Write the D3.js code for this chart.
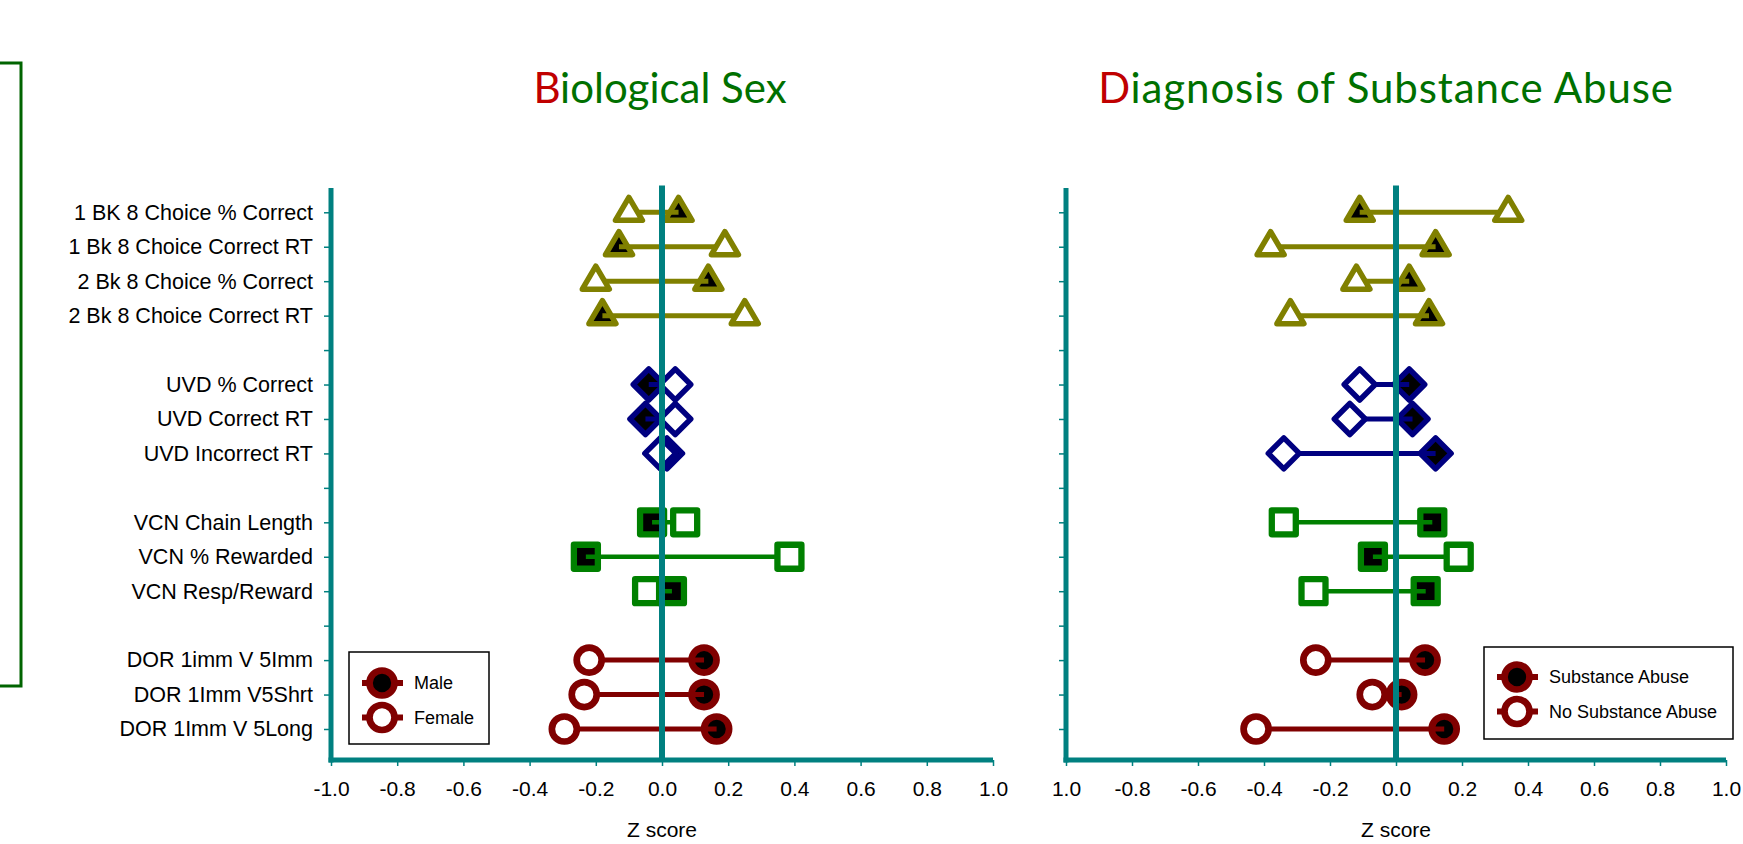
<!DOCTYPE html>
<html>
<head>
<meta charset="utf-8">
<script src="https://cdn.jsdelivr.net/npm/d3@7"></script>
<style>
  html, body { margin: 0; padding: 0; background: #fff; }
  svg { display: block; }
  text { font-family: "Liberation Sans", Arial, sans-serif; }
</style>
</head>
<body>
<div id="chart"></div>
<script>
// rows from top to bottom, "" = gap row
const rowLabels = [
  "1 BK 8 Choice % Correct", "1 Bk 8 Choice Correct RT", "2 Bk 8 Choice % Correct", "2 Bk 8 Choice Correct RT",
  "",
  "UVD % Correct", "UVD Correct RT", "UVD Incorrect RT",
  "",
  "VCN Chain Length", "VCN % Rewarded", "VCN Resp/Reward",
  "",
  "DOR 1imm V 5Imm", "DOR 1Imm V5Shrt", "DOR 1Imm V 5Long"
];
const rowGroup = ["tri","tri","tri","tri", null, "dia","dia","dia", null, "sq","sq","sq", null, "circ","circ","circ"];

const maleZ   = [0.05, -0.13, 0.14, -0.18, null, -0.04, -0.05, 0.015, null, -0.03, -0.23, 0.03, null, 0.127, 0.127, 0.165];
const femaleZ = [-0.10, 0.19, -0.20, 0.25, null, 0.04, 0.04, -0.005, null, 0.07, 0.385, -0.045, null, -0.22, -0.235, -0.295];

const abuseZ   = [-0.11, 0.12, 0.04, 0.10, null, 0.04, 0.05, 0.12, null, 0.11, -0.07, 0.09, null, 0.088, 0.017, 0.146];
const noAbuseZ = [0.34, -0.38, -0.12, -0.32, null, -0.11, -0.14, -0.34, null, -0.34, 0.19, -0.25, null, -0.243, -0.072, -0.424];

const xTicks = [-1, -0.8, -0.6, -0.4, -0.2, 0, 0.2, 0.4, 0.6, 0.8, 1];
const leftTickLabels  = ["-1.0","-0.8","-0.6","-0.4","-0.2","0.0","0.2","0.4","0.6","0.8","1.0"];
const rightTickLabels = ["1.0","-0.8","-0.6","-0.4","-0.2","0.0","0.2","0.4","0.6","0.8","1.0"];

const groupColor = { tri: "#808000", dia: "#000080", sq: "#008000", circ: "#800000" };
const teal = "#008080";

const W = 1743, H = 844;
const svg = d3.select("#chart").append("svg").attr("width", W).attr("height", H);

// y: row index -> pixel
const y = d3.scaleLinear().domain([-0.705, 15.9]).range([188, 760]);

// left green bracket
svg.append("path")
  .attr("d", "M0,63 H21 V686 H0")
  .attr("fill", "none").attr("stroke", "#006400").attr("stroke-width", 3);

function marker(g, shape, cx, cy, filled) {
  const fill = filled ? "#000" : "#fff";
  const col = groupColor[shape];
  if (shape === "circ") {
    g.append("circle").attr("cx", cx).attr("cy", cy).attr("r", 12.5)
      .attr("fill", fill).attr("stroke", col).attr("stroke-width", 6.7);
    return;
  }
  let d;
  if (shape === "tri") d = "M0,-15 L13.5,8 L-13.5,8 Z";
  else if (shape === "dia") d = "M0,-15.5 L15.5,0 L0,15.5 L-15.5,0 Z";
  else d = "M-12,-12 H12 V12 H-12 Z";
  g.append("path").attr("d", d)
    .attr("transform", `translate(${cx},${cy})`)
    .attr("fill", fill).attr("stroke", col)
    .attr("stroke-width", shape === "sq" ? 6.3 : 5.5)
    .attr("stroke-linejoin", "round");
}

function panel(opts) {
  const x = d3.scaleLinear().domain([-1, 1]).range(opts.range);
  const g = svg.append("g");

  // title
  const t = g.append("text")
    .attr("x", opts.titleX).attr("y", 103)
    .attr("text-anchor", "middle")
    .style("font-family", "Lato, 'Open Sans', sans-serif")
    .style("font-size", "42px")
    .style("letter-spacing", opts.titleSpacing);
  t.append("tspan").attr("fill", "#c00000").text(opts.title[0]);
  t.append("tspan").attr("fill", "#007000").text(opts.title.slice(1));

  // y axis ticks and labels
  const yAxis = d3.axisLeft(y)
    .tickValues(d3.range(rowLabels.length))
    .tickSize(7).tickPadding(11)
    .tickFormat(i => opts.showLabels ? rowLabels[i] : "");
  const ya = g.append("g").attr("transform", `translate(${x(-1)},0)`).call(yAxis);
  ya.select(".domain").remove();
  ya.selectAll(".tick line").attr("stroke", teal).attr("stroke-width", 1.5);
  ya.selectAll(".tick text").attr("fill", "#000")
    .style("font-size", "21.5px").style("font-family", "'Liberation Sans', Arial, sans-serif");

  // x axis
  const xAxis = d3.axisBottom(x)
    .tickValues(xTicks).tickSize(6).tickPadding(15)
    .tickFormat((d, i) => opts.tickLabels[i]);
  const xa = g.append("g").attr("transform", `translate(0,${y(15.9)})`).call(xAxis);
  xa.select(".domain").remove();
  xa.selectAll(".tick line").attr("stroke", teal).attr("stroke-width", 1.5);
  xa.selectAll(".tick text").attr("fill", "#000")
    .style("font-size", "21px").style("font-family", "'Liberation Sans', Arial, sans-serif");

  // axis lines
  g.append("line").attr("x1", x(-1)).attr("x2", x(-1)).attr("y1", y(-0.705)).attr("y2", y(15.9) + 2.5)
    .attr("stroke", teal).attr("stroke-width", 5);
  g.append("line").attr("x1", x(-1) - 2.5).attr("x2", x(1)).attr("y1", y(15.9)).attr("y2", y(15.9))
    .attr("stroke", teal).attr("stroke-width", 5);

  // x title
  g.append("text").attr("x", x(0)).attr("y", 837)
    .attr("text-anchor", "middle").attr("fill", "#000")
    .style("font-size", "21px").text("Z score");

  // marks
  const marks = g.append("g");
  rowLabels.forEach((lab, i) => {
    const shape = rowGroup[i];
    if (!shape) return;
    const a = opts.filled[i], b = opts.open[i];
    const cy = y(i);
    marker(marks, shape, x(a), cy, true);
    marks.append("line").attr("x1", x(a)).attr("x2", x(b)).attr("y1", cy).attr("y2", cy)
      .attr("stroke", groupColor[shape]).attr("stroke-width", shape === "sq" ? 4.5 : 5);
    marker(marks, shape, x(b), cy, false);
  });

  // zero line on top
  g.append("line").attr("x1", x(0)).attr("x2", x(0)).attr("y1", 185.5).attr("y2", y(15.9))
    .attr("stroke", teal).attr("stroke-width", 6);

  // legend
  const L = opts.legend;
  const lg = g.append("g");
  lg.append("rect").attr("x", L.x).attr("y", L.y).attr("width", L.w).attr("height", L.h)
    .attr("fill", "#fff").attr("stroke", "#000").attr("stroke-width", 1.5);
  L.items.forEach((name, k) => {
    const cy = L.y + L.first + k * 34.5;
    const mx = L.x + 33;
    lg.append("line").attr("x1", mx - 20).attr("x2", mx + 21).attr("y1", cy).attr("y2", cy)
      .attr("stroke", groupColor.circ).attr("stroke-width", 6);
    marker(lg, "circ", mx, cy, k === 0);
    lg.append("text").attr("x", L.x + 65).attr("y", cy).attr("dy", "0.35em")
      .attr("fill", "#000").style("font-size", "18px").text(name);
  });
}

panel({
  range: [331, 993], title: "Biological Sex", titleX: 660, titleSpacing: "0px", showLabels: true,
  tickLabels: leftTickLabels, filled: maleZ, open: femaleZ,
  legend: { x: 349, y: 652, w: 140, h: 92, first: 31, items: ["Male", "Female"] }
});
panel({
  range: [1066, 1726], title: "Diagnosis of Substance Abuse", titleX: 1386, titleSpacing: "0.9px", showLabels: false,
  tickLabels: rightTickLabels, filled: abuseZ, open: noAbuseZ,
  legend: { x: 1484, y: 647, w: 249, h: 92, first: 30, items: ["Substance Abuse", "No Substance Abuse"] }
});
</script>
</body>
</html>
